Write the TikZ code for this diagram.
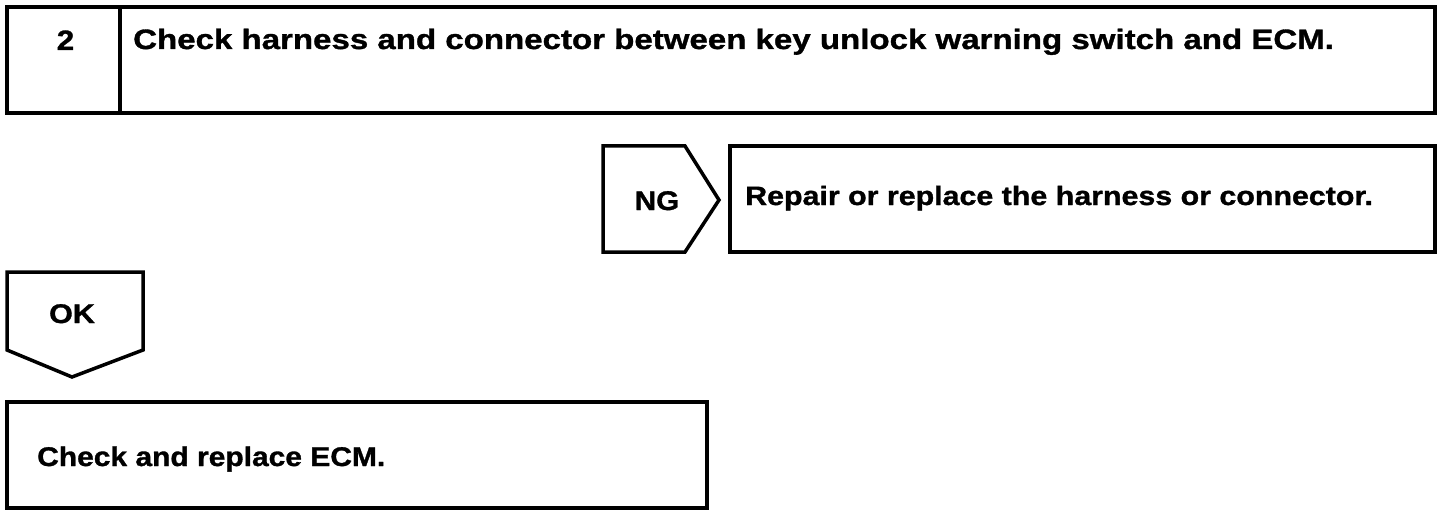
\documentclass[tikz,border=0pt]{standalone}
\usepackage{fontspec}
\setmainfont{Liberation Sans}[BoldFeatures={FakeBold=1.2}]
\begin{document}
\begin{tikzpicture}[x=1pt,y=-1pt,
  frame/.style={draw=black,line width=3.5pt,line join=miter},
  lbl/.style={inner sep=0pt,anchor=base west},
  lblc/.style={inner sep=0pt,anchor=base}]
\useasboundingbox (0,0) rectangle (1456,516);
% step header
\draw[frame] (7,7) rectangle (1435,113);
\draw[frame] (120,7) -- (120,113);
\node[lblc,font=\bfseries\fontsize{28}{30}\selectfont\addfontfeatures{FakeStretch=1.12}] (num) at (65.5,50) {2};
\node[lbl,font=\bfseries\fontsize{28}{30}\selectfont\addfontfeatures{FakeStretch=1.18}] (title) at (133,49) {Check harness and connector between key unlock warning switch and ECM.};
% NG branch
\draw[frame] (603,146) -- (685,146) -- (719,200) -- (685,252) -- (603,252) -- cycle;
\node[lblc,font=\bfseries\fontsize{27}{30}\selectfont\addfontfeatures{FakeStretch=1.1}] (ng) at (657,210) {NG};
\draw[frame] (730,146) rectangle (1435,252);
\node[lbl,font=\bfseries\fontsize{26.5}{30}\selectfont\addfontfeatures{FakeStretch=1.146}] (repair) at (745,205) {Repair or replace the harness or connector.};
% OK branch
\draw[frame] (7,272) -- (143,272) -- (143,350) -- (72,377) -- (7,350) -- cycle;
\node[lblc,font=\bfseries\fontsize{27}{30}\selectfont\addfontfeatures{FakeStretch=1.13}] (ok) at (72,323) {OK};
\draw[frame] (7,402) rectangle (707,508);
\node[lbl,font=\bfseries\fontsize{27}{30}\selectfont\addfontfeatures{FakeStretch=1.11}] (ecm) at (37,466) {Check and replace ECM.};
\end{tikzpicture}
\end{document}
